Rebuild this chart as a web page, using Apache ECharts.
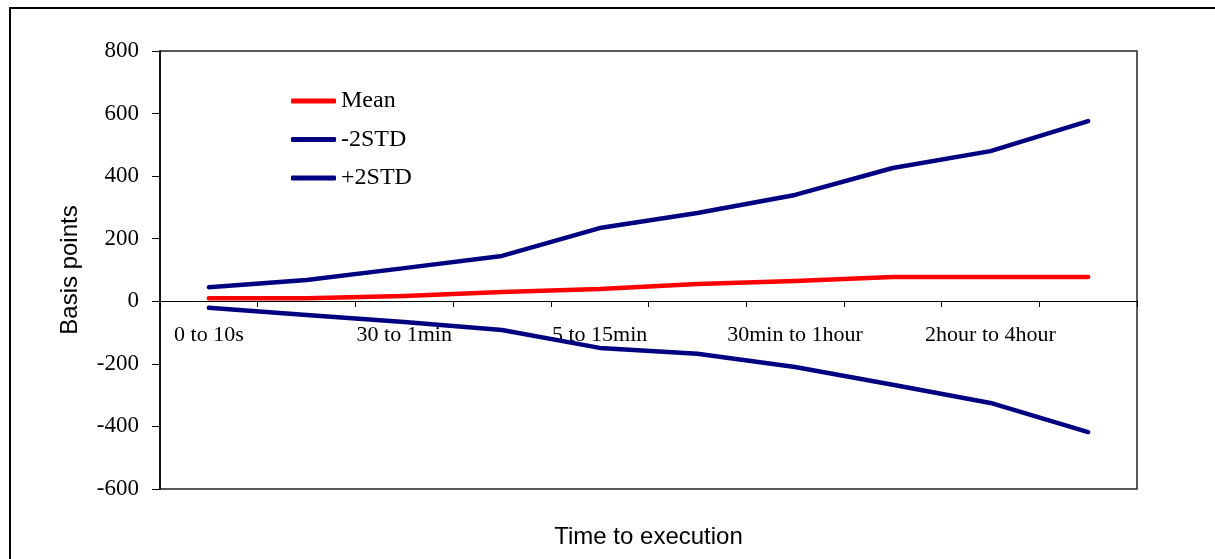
<!DOCTYPE html>
<html>
<head>
<meta charset="utf-8">
<script src="https://cdn.jsdelivr.net/npm/echarts@6/dist/echarts.min.js"></script>
<style>html,body{margin:0;padding:0;background:#fff;}#c{width:1215px;height:559px;}</style>
</head>
<body>
<div id="c"></div>
<script>
const categories = ["0 to 10s", "10 to 30s", "30 to 1min", "1 to 5min", "5 to 15min", "15 to 30min", "30min to 1hour", "1hour to 2hour", "2hour to 4hour", "4hour to 8hour"];
const meanValues = [10, 10, 17, 30, 39, 55, 65, 78, 78, 78];
const minus2Std = [-21, -44, -66, -92, -149, -168, -210, -267, -325, -418];
const plus2Std = [45, 68, 106, 145, 234, 282, 340, 426, 480, 576];
const yTicks = { min: -600, max: 800, interval: 200 };

const serif = "Liberation Serif";
const sans = "Liberation Sans";
const chart = echarts.init(document.getElementById('c'), null, { renderer: 'canvas' });
const lineSeries = (name, data, color) => ({
  name, type: 'line', data, symbol: 'none', showSymbol: false, animation: false,
  lineStyle: { color, width: 4.5, cap: 'round', join: 'round' },
  itemStyle: { color }
});
chart.setOption({
  backgroundColor: '#fff',
  animation: false,
  grid: { left: 160, right: 78, top: 51, bottom: 70, containLabel: false, outerBoundsMode: 'none', show: true, borderColor: '#222', borderWidth: 1.5, backgroundColor: 'transparent' },
  legend: {
    orient: 'vertical', left: 286, top: 84,
    icon: 'roundRect', itemWidth: 45, itemHeight: 5, itemGap: 14.5,
    textStyle: { fontFamily: serif, fontSize: 24, color: '#000', lineHeight: 24 },
    data: ['Mean', '-2STD', '+2STD']
  },
  xAxis: {
    type: 'category', data: categories, boundaryGap: true,
    offset: -188,
    name: 'Time to execution', nameLocation: 'middle', nameGap: 224,
    nameTextStyle: { fontFamily: sans, fontSize: 24, color: '#000' },
    axisLine: { onZero: false, lineStyle: { color: '#000', width: 1 } },
    axisTick: { show: true, interval: 0, length: 6, inside: false, lineStyle: { color: '#000' } },
    axisLabel: { interval: 1, fontFamily: serif, fontSize: 22, color: '#000', margin: 23 },
    splitLine: { show: false }
  },
  yAxis: {
    type: 'value', min: yTicks.min, max: yTicks.max, interval: yTicks.interval,
    name: 'Basis points', nameLocation: 'middle', nameGap: 78, nameRotate: 90,
    nameTextStyle: { fontFamily: sans, fontSize: 24, color: '#000' },
    axisLine: { show: true, lineStyle: { color: '#000', width: 1.5 } },
    axisTick: { show: true, length: 8, inside: false, lineStyle: { color: '#000' } },
    axisLabel: { fontFamily: serif, fontSize: 23, color: '#000', margin: 21 },
    splitLine: { show: false }
  },
  graphic: [{
    type: 'rect', silent: true, z: 100,
    shape: { x: 10, y: 8, width: 1220, height: 600 },
    style: { fill: 'none', stroke: '#000', lineWidth: 2 }
  }],
  series: [
    lineSeries('Mean', meanValues, '#FF0000'),
    lineSeries('-2STD', minus2Std, '#000080'),
    lineSeries('+2STD', plus2Std, '#000080')
  ]
});
</script>
</body>
</html>
